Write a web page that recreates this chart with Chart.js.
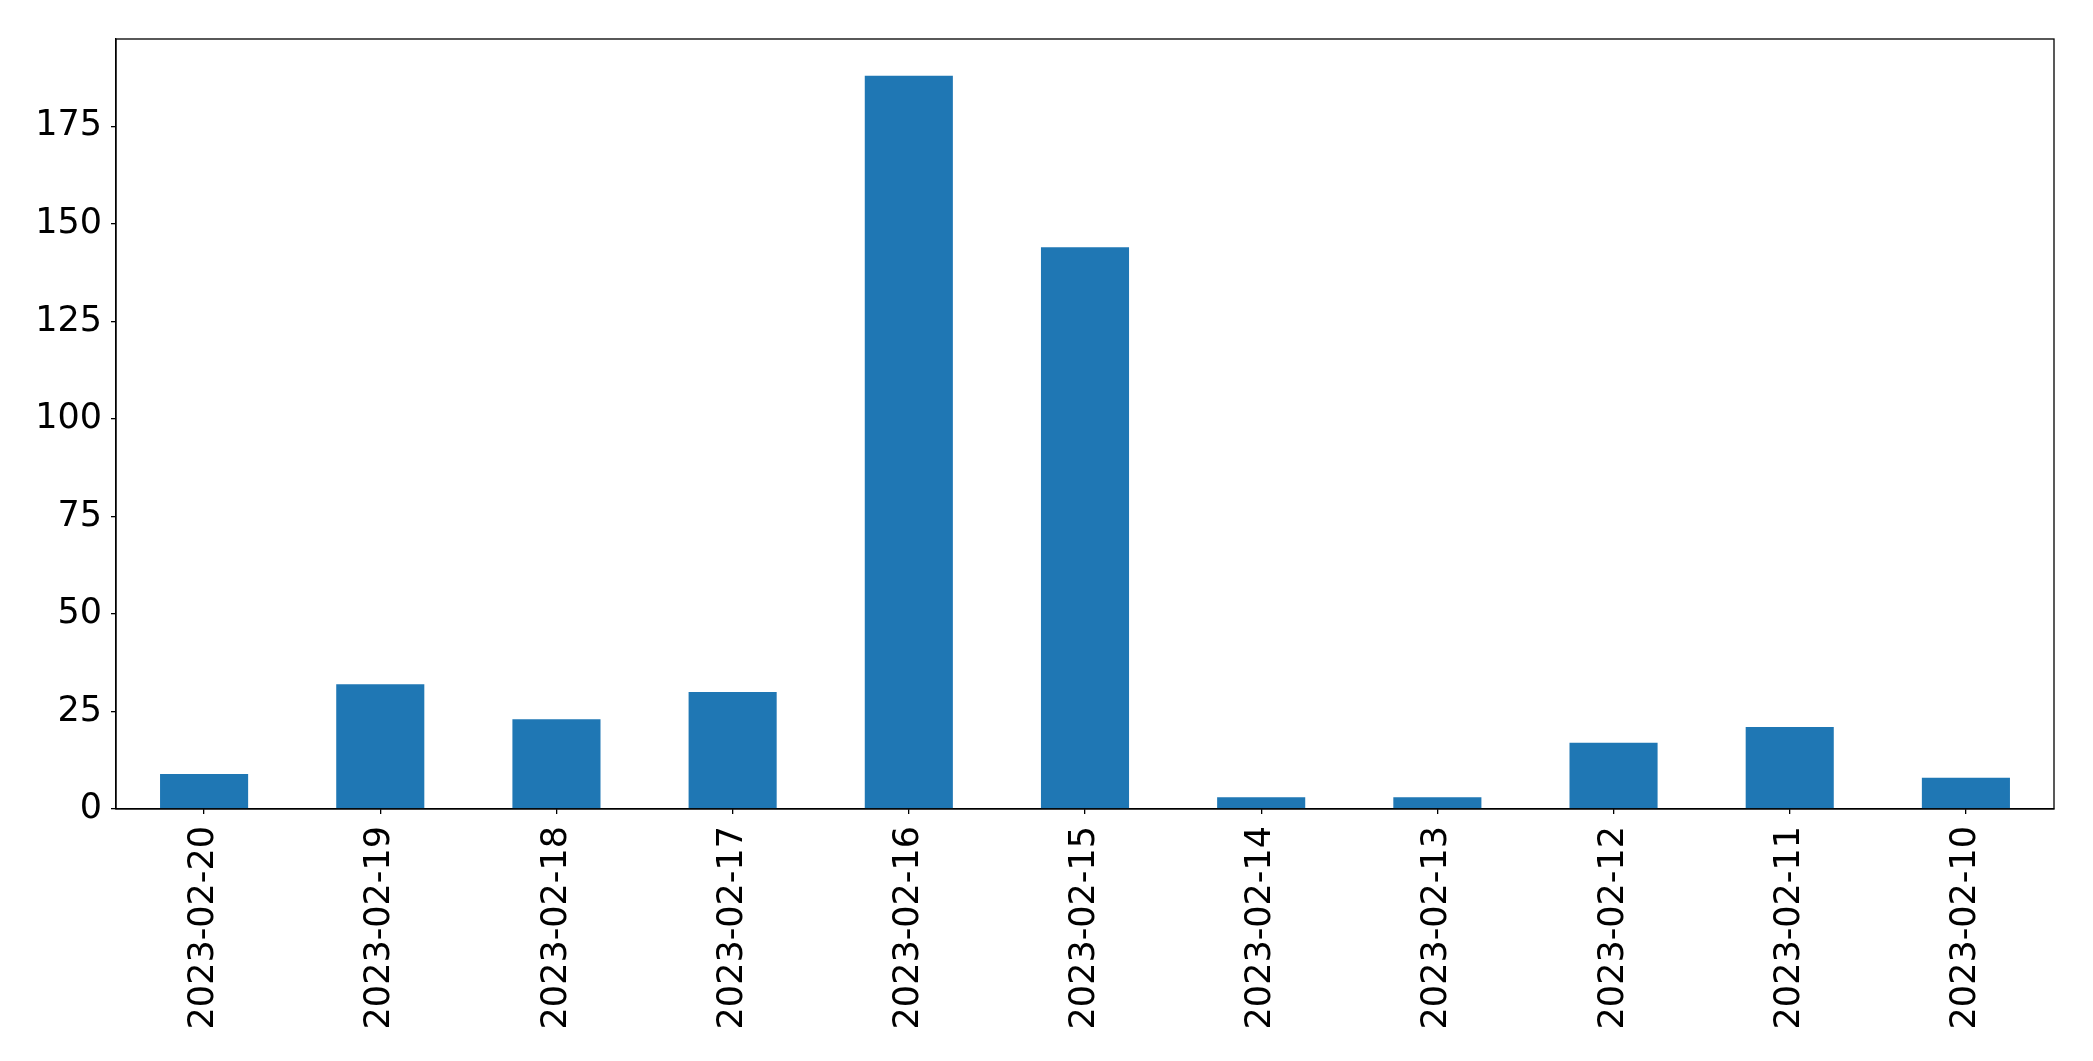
<!DOCTYPE html>
<html>
<head>
<meta charset="utf-8">
<script src="https://cdn.jsdelivr.net/npm/chart.js@4.4.0/dist/chart.umd.min.js"></script>
<style>
html,body{margin:0;padding:0;background:#fff;}
#wrap{width:2093px;height:1061px;position:relative;}
</style>
</head>
<body>
<div id="wrap"><canvas id="c" width="2093" height="1061"></canvas></div>
<script>
const categories = ["2023-02-20","2023-02-19","2023-02-18","2023-02-17","2023-02-16","2023-02-15","2023-02-14","2023-02-13","2023-02-12","2023-02-11","2023-02-10"];
const values = [9, 32, 23, 30, 188, 144, 3, 3, 17, 21, 8];
const yTicks = [0, 25, 50, 75, 100, 125, 150, 175];

const yMax = Math.max(...values) * 1.05;

const frame = {
  id: 'frame',
  afterDraw(chart) {
    const a = chart.chartArea, ctx = chart.ctx;
    ctx.save();
    ctx.strokeStyle = '#000';
    ctx.lineWidth = 1.3;
    ctx.strokeRect(a.left, a.top, a.right - a.left, a.bottom - a.top);
    ctx.restore();
  }
};

new Chart(document.getElementById('c'), {
  type: 'bar',
  data: {
    labels: categories,
    datasets: [{
      data: values,
      backgroundColor: '#1f77b4',
      borderWidth: 0,
      barPercentage: 0.5,
      categoryPercentage: 1.0
    }]
  },
  options: {
    responsive: false,
    animation: false,
    devicePixelRatio: 1,
    layout: { padding: { top: 39, right: 39, left: 0, bottom: 0 } },
    plugins: { legend: { display: false }, tooltip: { enabled: false } },
    scales: {
      x: {
        offset: true,
        grid: { display: true, drawOnChartArea: false, drawTicks: true, tickLength: 5, color: '#000', lineWidth: 1.3, offset: false },
        border: { display: true, color: '#000', width: 1.3 },
        ticks: {
          color: '#000',
          font: { family: 'DejaVu Sans', size: 35 },
          maxRotation: 90, minRotation: 90,
          padding: 12,
          autoSkip: false
        },
        afterFit(s) { s.height = 1061 - 809; }
      },
      y: {
        min: 0,
        max: yMax,
        grid: { display: true, drawOnChartArea: false, drawTicks: true, tickLength: 5, color: '#000', lineWidth: 1.3 },
        border: { display: true, color: '#000', width: 1.3 },
        afterBuildTicks(s) { s.ticks = yTicks.map(v => ({ value: v })); },
        ticks: {
          color: '#000',
          font: { family: 'DejaVu Sans', size: 35 },
          padding: 9
        },
        afterFit(s) { s.width = 116; }
      }
    }
  },
  plugins: [frame]
});
</script>
</body>
</html>
